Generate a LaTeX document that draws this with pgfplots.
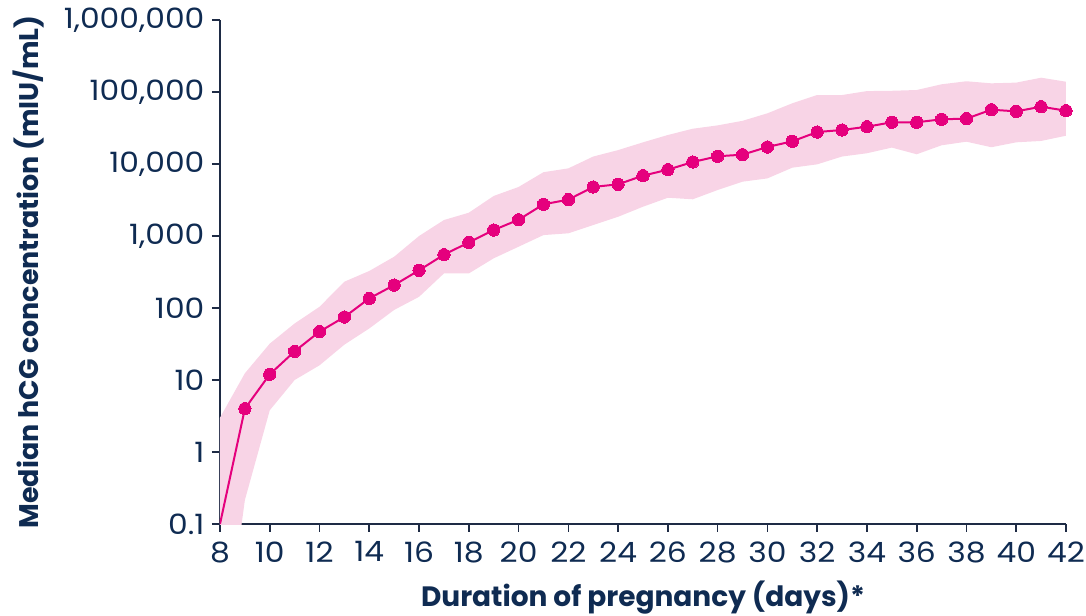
\documentclass[border=0pt]{standalone}
\usepackage{pgfplots}
\pgfplotsset{compat=1.18}
\usepackage{pgfplotstable}
\usepackage{fontspec}
\setmainfont{Poppins}
\newfontfamily\tickfont[FakeStretch=1.12]{Poppins}
\definecolor{navy}{HTML}{0F2B52}
\definecolor{axisc}{HTML}{1E2B45}
\definecolor{mag}{HTML}{E5007D}
\definecolor{band}{HTML}{F8D4E6}
\pgfplotstableread{
day med
8 0.1
9 4
10 12
11 25
12 47
13 75
14 136
15 208
16 334
17 550
18 815
19 1211
20 1683
21 2754
22 3200
23 4800
24 5225
25 6890
26 8340
27 10660
28 12800
29 13480
30 17230
31 20650
32 27800
33 29660
34 32960
35 37950
36 37950
37 41780
38 42660
39 56800
40 53830
41 62500
42 55000
}\medtable
% band outline: upper bound forward, lower bound backward
\pgfplotstableread{
day val
8 3
9 12.4
10 32
11 61
12 104
13 232
14 327
15 516
16 1000
17 1667
18 2107
19 3600
20 4800
21 7700
22 8700
23 12700
24 15600
25 20000
26 25300
27 30900
28 34400
29 39800
30 50600
31 69700
32 90800
33 90800
34 103000
35 104000
36 106600
37 128000
38 141000
39 132000
40 135000
41 158000
42 139000
42 24700
41 20900
40 20000
39 17100
38 20400
37 18200
36 13650
35 16900
34 14100
33 12700
32 9890
31 8890
30 6310
29 5680
28 4350
27 3235
26 3400
25 2550
24 1850
23 1420
22 1090
21 1030
20 710
19 490
18 302
17 302
16 143
15 94
14 52
13 31
12 16
11 10
10 3.8
9 0.215
8 0.0006
}\bandtable
\begin{document}
\begin{tikzpicture}
\begin{axis}[
  at={(0,0)}, anchor=south west,
  scale only axis,
  width=634.5pt, height=378pt,
  xmin=8, xmax=42, ymin=0.1, ymax=1000000,
  ymode=log,
  axis lines=left,
  axis line style={-, line width=1.5pt, color=axisc},
  tick style={line width=1.2pt, color=axisc},
  tick align=outside,
  major tick length=6pt,
  minor tick length=0pt,
  xtick={8,10,...,42},
  xticklabels={8,10,12,14,16,18,20,22,24,26,28,30,32,34,36,38,40,42},
  ytick={0.1,1,10,100,1000,10000,100000,1000000},
  yticklabels={0.1,1,10,100,{1,000},{10,000},{100,000},{1,000,000}},
  yminorticks=false,
  xticklabel style={font=\tickfont\fontsize{21}{24}\selectfont, text=navy, inner sep=0pt, yshift=-7pt},
  yticklabel style={font=\tickfont\fontsize{21}{24}\selectfont, text=navy, inner sep=0pt, xshift=-5.5pt},
  xlabel={Duration of pregnancy (days)*},
  ylabel={Median hCG concentration (mIU/mL)},
  xlabel style={font=\bfseries\fontsize{21}{24}\selectfont, text=navy, inner sep=0pt, at={(axis description cs:0.5,-0.145)}, anchor=center},
  ylabel style={font=\bfseries\fontsize{20.2}{24}\selectfont, text=navy, inner sep=0pt, at={(axis description cs:-0.226,0.5)}, anchor=center},
  clip=true,
]
\addplot[fill=band, draw=none] table[x=day, y=val] {\bandtable} -- cycle;
\addplot[mag, line width=1.5pt, mark=*, mark size=4.6pt, mark phase=2, mark repeat=1, mark options={fill=mag, draw=mag, line width=0pt}] table[x=day, y=med] {\medtable};
\end{axis}
\path (-165pt,-68.25pt) rectangle (649.5pt,393pt);
\end{tikzpicture}
\end{document}
